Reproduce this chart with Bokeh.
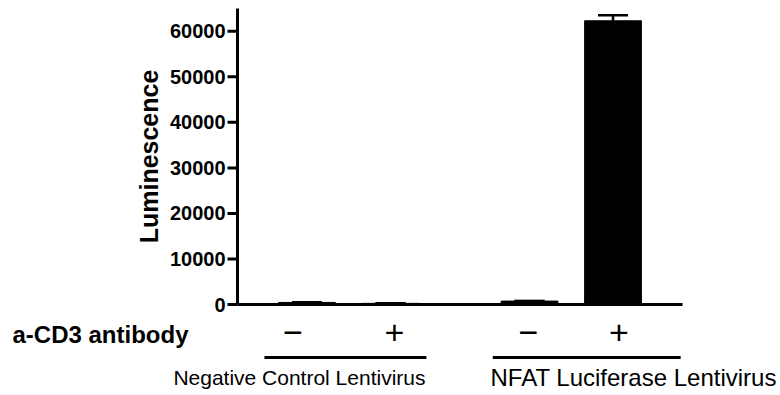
import math
from bokeh.plotting import figure
from bokeh.models import Range1d, ColumnDataSource, Whisker, TeeHead
from bokeh.core.properties import value
from bokeh.embed import file_html
from bokeh.resources import INLINE

# ---------------- data ----------------
groups = ["Negative Control Lentivirus", "NFAT Luciferase Lentivirus"]
signs = ["\u2212", "+"]
luminescence = [450, 250, 750, 62300]
sem = [30, 20, 40, 1200]
y_ticks = [0, 10000, 20000, 30000, 40000, 50000, 60000]
y_max = 65000
y_label = "Luminescence"
row_label = "a-CD3 antibody"

# ---------------- layout (pixels of the 780x395 picture) ----------------
W, H = 780, 395
GROUP_GAP = 0.665        # extra gap between groups, in bar slots
UNIT = 83.5              # pixels per bar slot
X0_PX = 306.5            # pixel column of the first bar centre
AXIS_X_PX, AXIS_END_PX = 237, 682
ZERO_PX, TOP_PX = 304, 8
Y_PER_PX = y_max / (ZERO_PX - TOP_PX)

def xpx(px):
    return (px - X0_PX) / UNIT

def ypx(py):
    return (ZERO_PX - py) * Y_PER_PX

FONT = "Liberation Sans"

# bar positions derived from the categories
cats, xs = [], []
for gi, g in enumerate(groups):
    for si, s in enumerate(signs):
        cats.append((g, s))
        xs.append(gi * (len(signs) + GROUP_GAP) + si)

p = figure(width=W, height=H,
           x_range=Range1d(xpx(0), xpx(W)), y_range=Range1d(ypx(H), ypx(0)),
           output_backend="svg", toolbar_location=None,
           x_axis_location=None, y_axis_location=None,
           min_border_left=0, min_border_right=0, min_border_top=0,
           min_border_bottom=0)
p.grid.visible = False
p.outline_line_color = None
p.background_fill_color = "white"

src = ColumnDataSource(dict(
    x=xs, top=luminescence,
    upper=[v + e for v, e in zip(luminescence, sem)],
    lower=[v - e for v, e in zip(luminescence, sem)],
))

p.vbar(x="x", top="top", width=0.68, source=src, fill_color="black",
       line_color="black", line_width=1)

p.add_layout(Whisker(base="x", upper="upper", lower="lower", source=src,
                     line_width=2.5, line_color="black",
                     upper_head=TeeHead(size=30, line_width=2.5, line_color="black"),
                     lower_head=TeeHead(size=30, line_width=2.5, line_color="black")))

# ---- axes (drawn through the data scales) ----
ax = xpx(AXIS_X_PX)
# x axis line
p.segment(x0=[ax], x1=[xpx(AXIS_END_PX)], y0=[0], y1=[0],
          line_width=3, line_color="black")
# y axis line
p.segment(x0=[ax], x1=[ax], y0=[0], y1=[y_max], line_width=3, line_color="black")
# y ticks
tick_len = 10 / UNIT
p.segment(x0=[ax - tick_len] * len(y_ticks), x1=[ax] * len(y_ticks),
          y0=y_ticks, y1=y_ticks, line_width=3, line_color="black")
p.text(x=[ax - 12 / UNIT] * len(y_ticks), y=y_ticks,
       text=[str(t) for t in y_ticks], text_font=value(FONT),
       text_font_style="bold", text_font_size="20px", text_color="black",
       text_align="right", text_baseline="middle")
# y axis title
p.text(x=[xpx(148)], y=[y_max / 2], text=[y_label], angle=math.pi / 2,
       text_font=value(FONT), text_font_style="bold", text_font_size="25px",
       text_color="black", text_align="center", text_baseline="middle")

# ---- +/- row ----
p.text(x=xs, y=[ypx(332)] * len(xs), text=[c[1] for c in cats],
       x_offset=[-14, 4, -1, 6], text_font=value(FONT), text_font_size="34px",
       text_color="black", text_align="center", text_baseline="middle")
p.text(x=[xpx(188)], y=[ypx(334)], text=[row_label], text_font=value(FONT),
       text_font_style="bold", text_font_size="24px", text_color="black",
       text_align="right", text_baseline="middle")

# ---- group underlines ----
p.segment(x0=[xs[0] - 0.51, xs[2] - 0.44], x1=[xs[1] + 0.43, xs[3] + 0.81],
          y0=[ypx(357)] * 2, y1=[ypx(357)] * 2, line_width=3, line_color="black")

# ---- group names ----
p.text(x=[xs[1]], y=[ypx(377)], text=[groups[0]], x_offset=35,
       text_font=value(FONT), text_font_size="21px",
       text_color="black", text_align="right", text_baseline="middle")
p.text(x=[xs[2]], y=[ypx(377)], text=[groups[1]], x_offset=-39,
       text_font=value(FONT), text_font_size="24px",
       text_color="black", text_align="left", text_baseline="middle")

open("out.html", "w").write(file_html(p, INLINE))
